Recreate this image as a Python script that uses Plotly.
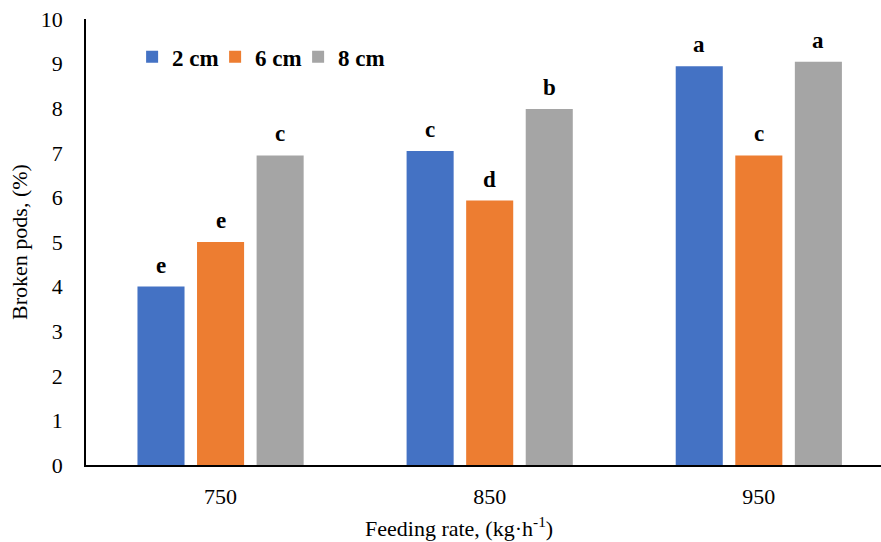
import plotly.graph_objects as go

categories = ["750", "850", "950"]
series_names = ["2 cm", "6 cm", "8 cm"]
values_2cm = [4.0, 7.04, 8.94]
values_6cm = [5.0, 5.93, 6.94]
values_8cm = [6.94, 7.98, 9.04]
letters_2cm = ["e", "c", "a"]
letters_6cm = ["e", "d", "c"]
letters_8cm = ["c", "b", "a"]
colors = ["#4472C4", "#ED7D31", "#A5A5A5"]

FONT = "Liberation Serif"

all_values = [values_2cm, values_6cm, values_8cm]
all_letters = [letters_2cm, letters_6cm, letters_8cm]

fig = go.Figure()
for name, vals, col in zip(series_names, all_values, colors):
    fig.add_trace(go.Bar(
        x=categories, y=vals, name=f"<b>{name}</b>",
        marker=dict(color=col, line=dict(width=0)),
    ))

# invisible spacer legend entry so the last real entry is not clipped
fig.add_trace(go.Scatter(
    x=[None], y=[None], mode="markers", name=" ",
    marker=dict(color="rgba(0,0,0,0)", size=1), hoverinfo="skip",
))

# letter annotations above bars (x given as category index)
pitch = 59.5
offsets = [-pitch, 0, pitch]
for vals, lets, off in zip(all_values, all_letters, offsets):
    for i, (v, l) in enumerate(zip(vals, lets)):
        fig.add_annotation(
            x=i, y=v, text=f"<b>{l}</b>", showarrow=False,
            xshift=off, yshift=7, yanchor="bottom",
            font=dict(family=FONT, size=23, color="black"),
        )

fig.add_annotation(
    xref="paper", yref="paper", x=0.4695, y=-0.139,
    xanchor="center", yanchor="middle", showarrow=False,
    text="Feeding rate, (kg·h<sup>-1</sup>)",
    font=dict(family=FONT, size=22, color="black"),
)

fig.update_layout(
    width=881, height=542,
    margin=dict(l=86, r=0, t=19, b=77),
    plot_bgcolor="white", paper_bgcolor="white",
    barmode="group", bargap=0.336, bargroupgap=0.21,
    font=dict(family=FONT, size=22, color="black"),
    showlegend=True,
    legend=dict(
        orientation="h", x=0.058, y=0.915, xanchor="left", yanchor="middle",
        font=dict(family=FONT, size=23, color="black"),
        bgcolor="rgba(0,0,0,0)", itemwidth=30,
        entrywidth=38, entrywidthmode="pixels", traceorder="normal",
    ),
    xaxis=dict(
        type="category", range=[-0.5, 2.454],
        showline=True, linecolor="black", linewidth=1.5,
        ticks="", showgrid=False, zeroline=False,
        ticklabelstandoff=11,
        tickfont=dict(family=FONT, size=22, color="black"),
    ),
    yaxis=dict(
        range=[0, 10], dtick=1,
        showline=True, linecolor="black", linewidth=1.5,
        ticks="", showgrid=False, zeroline=False,
        ticklabelstandoff=17,
        tickfont=dict(family=FONT, size=22, color="black"),
        title=dict(text="Broken pods, (%)", standoff=7,
                   font=dict(family=FONT, size=22, color="black")),
    ),
)

fig.write_html("out.html")
